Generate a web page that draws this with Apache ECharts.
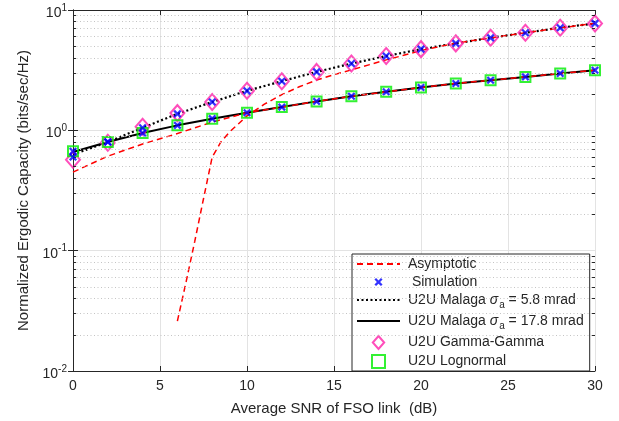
<!DOCTYPE html>
<html><head><meta charset="utf-8">
<script src="https://cdn.jsdelivr.net/npm/echarts@6/dist/echarts.min.js"></script>
<style>html,body{margin:0;padding:0;background:#fff}#c{width:619px;height:421px}</style>
</head><body><div id="c"></div>
<script>
// ---- data ----
const snr = [0,2,4,6,8,10,12,14,16,18,20,22,24,26,28,30];
const malaga58 = [0.63,0.80,1.05,1.37,1.72,2.13,2.56,3.06,3.59,4.14,4.73,5.28,5.87,6.47,7.12,7.74];
const malaga178 = [0.66,0.80,0.95,1.10,1.25,1.40,1.56,1.74,1.92,2.09,2.27,2.45,2.61,2.78,2.97,3.16];
const sim58 = [0.60,0.80,1.05,1.37,1.72,2.13,2.56,3.06,3.59,4.14,4.73,5.28,5.87,6.47,7.12,7.74];
const sim178 = [0.67,0.80,0.95,1.10,1.25,1.40,1.56,1.74,1.92,2.09,2.27,2.45,2.61,2.78,2.97,3.16];
const gammaGamma = [0.57,0.79,1.07,1.39,1.72,2.13,2.56,3.06,3.59,4.14,4.73,5.28,5.87,6.47,7.12,7.74];
const lognormal = [0.67,0.80,0.95,1.10,1.25,1.40,1.56,1.74,1.92,2.09,2.27,2.45,2.61,2.78,2.97,3.16];
const asymLowSnr = [0,2,4,6,8,10,12,14,16,18,20,22,24,26,28,30];
const asymLow = [0.45,0.61,0.77,0.94,1.17,1.40,1.56,1.74,1.92,2.09,2.27,2.45,2.61,2.78,2.97,3.16];
const asymHighSnr = [6,6.5,7,7.5,8,8.5,9,9.5,10,11,12,13,14,15,16,17,18,19,20,21,22,24,26,28,30];
const asymHigh = [0.026,0.055,0.12,0.27,0.6,0.8,0.97,1.13,1.32,1.65,1.98,2.3,2.62,2.9,3.18,3.5,3.85,4.2,4.6,4.95,5.3,5.87,6.47,7.1,7.74];
const xTicks = [0,5,10,15,20,25,30];
const yDecades = [0.01,0.1,1,10];
const minorY = [0.02,0.03,0.04,0.05,0.06,0.07,0.08,0.09,0.2,0.3,0.4,0.5,0.6,0.7,0.8,0.9,2,3,4,5,6,7,8,9];
const seriesNames = ['Asymptotic','Simulation','U2U Malaga 5.8','U2U Malaga 17.8','U2U Gamma-Gamma','U2U Lognormal'];
const legendLabels = {
  'Asymptotic':'Asymptotic',
  'Simulation':' Simulation',
  'U2U Malaga 5.8':'U2U Malaga {it|σ}{sub|a} = 5.8 mrad',
  'U2U Malaga 17.8':'U2U Malaga {it|σ}{sub|a} = 17.8 mrad',
  'U2U Gamma-Gamma':'U2U Gamma-Gamma',
  'U2U Lognormal':'U2U Lognormal'
};

const zip = (xs, ys) => xs.map((x, i) => [x, ys[i]]);
const FONT = "'Liberation Sans', Arial, Helvetica, sans-serif";
const AX = '#262626';
const xPath = 'path://M-3,-3M13,13M0,2L2,0L5,3L8,0L10,2L7,5L10,8L8,10L5,7L2,10L0,8L3,5Z';
const diamondIcon = 'path://M7,0L14,8L7,16L0,8Z';
const squareIcon = 'path://M0,0L10,0L10,10L0,10Z';

const chart = echarts.init(document.getElementById('c'), null, {renderer:'canvas'});
const option = {
  animation:false,
  backgroundColor:'#fff',
  textStyle:{fontFamily:FONT},
  grid:{left:73, top:10, right:24, bottom:50, containLabel:false},
  xAxis:[{
    type:'value', min:0, max:30, interval:5, position:'bottom',
    name:'Average SNR of FSO link  (dB)', nameLocation:'middle', nameGap:30,
    nameTextStyle:{fontSize:15, color:AX, fontFamily:FONT},
    axisLine:{show:true, lineStyle:{color:AX, width:1}},
    axisTick:{show:true, inside:true, length:5, lineStyle:{color:AX}},
    axisLabel:{fontSize:14, color:AX, margin:8, fontFamily:FONT},
    splitLine:{show:true, lineStyle:{color:'#e3e3e3', width:1}}
  },{
    type:'value', min:0, max:30, interval:5, position:'top',
    axisLine:{show:true, lineStyle:{color:AX, width:1}},
    axisTick:{show:true, inside:true, length:5, lineStyle:{color:AX}},
    axisLabel:{show:false}, splitLine:{show:false}
  }],
  yAxis:[{
    type:'log', logBase:10, min:0.01, max:10, position:'left',
    name:'Normalized Ergodic Capacity (bits/sec/Hz)', nameLocation:'middle', nameGap:42,
    nameTextStyle:{fontSize:15, color:AX, fontFamily:FONT},
    axisLine:{show:true, lineStyle:{color:AX, width:1}},
    axisTick:{show:true, inside:true, length:5, lineStyle:{color:AX}},
    axisLabel:{
      color:AX, margin:6, fontFamily:FONT,
      formatter:function(v){ const e = Math.round(Math.log10(v)); return '{b|10}{s|' + e + '}'; },
      rich:{ b:{fontSize:14, color:AX, fontFamily:FONT, padding:[6,0,0,0]}, s:{fontSize:10, color:AX, fontFamily:FONT, padding:[0,0,4,0]} }
    },
    splitLine:{show:true, lineStyle:{color:'#e3e3e3', width:1}},
    minorTick:{show:false}, minorSplitLine:{show:false}
  },{
    type:'log', logBase:10, min:0.01, max:10, position:'right',
    axisLine:{show:true, lineStyle:{color:AX, width:1}},
    axisTick:{show:true, inside:true, length:5, lineStyle:{color:AX}},
    axisLabel:{show:false}, splitLine:{show:false}
  }],
  legend:{
    orient:'vertical', left:352, top:254, selectedMode:false, symbolKeepAspect:true,
    backgroundColor:'#fff', borderColor:AX, borderWidth:1, borderRadius:0,
    padding:[3,6,2,4], itemGap:4, itemWidth:43, itemHeight:13,
    textStyle:{fontSize:14, color:AX, fontFamily:FONT, padding:[0,0,0,3],
      rich:{ it:{fontStyle:'italic', fontSize:14, color:AX, fontFamily:FONT}, sub:{fontSize:10, color:AX, fontFamily:FONT, padding:[10,0,0,1]} }},
    formatter:function(n){ return legendLabels[n] || n; },
    data:[
      {name:seriesNames[0], itemStyle:{opacity:0}},
      {name:seriesNames[1]},
      {name:seriesNames[2], itemStyle:{opacity:0}},
      {name:seriesNames[3], itemStyle:{opacity:0}},
      {name:seriesNames[4], icon:diamondIcon},
      {name:seriesNames[5], icon:squareIcon}
    ]
  },
  series:[
    { // minor dotted grid
      name:'_minorGrid', type:'line', data:[], silent:true, z:0,
      markLine:{silent:true, symbol:['none','none'], label:{show:false}, animation:false,
        lineStyle:{type:[1,2.5], color:'#c4c4c4', width:1},
        data: minorY.map(v => ({yAxis:v}))}
    },
    { // minor ticks on left & right frame
      name:'_minorTicks', type:'line', data:[], silent:true, z:1,
      markLine:{silent:true, symbol:['none','none'], label:{show:false}, animation:false,
        lineStyle:{type:'solid', color:AX, width:1},
        data: minorY.map(v => [{coord:[0,v]},{coord:[0.17,v]}]).concat(minorY.map(v => [{coord:[29.83,v]},{coord:[30,v]}]))}
    },
    { name:seriesNames[2], type:'line', data:zip(snr, malaga58), symbol:'none', showSymbol:false, z:2,
      color:'#000', lineStyle:{color:'#000', width:2.2, type:[2,2.5], cap:'butt'} },
    { name:seriesNames[3], type:'line', data:zip(snr, malaga178), symbol:'none', showSymbol:false, z:2,
      color:'#000', lineStyle:{color:'#000', width:2, type:'solid'} },
    { name:seriesNames[0], type:'line', data:zip(asymLowSnr, asymLow), symbol:'none', showSymbol:false, z:3,
      color:'#ff0000', lineStyle:{color:'#ff0000', width:1.5, type:[6,4]} },
    { name:seriesNames[0], type:'line', data:zip(asymHighSnr, asymHigh), symbol:'none', showSymbol:false, z:3,
      color:'#ff0000', lineStyle:{color:'#ff0000', width:1.5, type:[6,4]} },
    { name:seriesNames[4], type:'scatter', data:zip(snr, gammaGamma), symbol:'diamond', symbolSize:[14,16], z:4,
      itemStyle:{color:'rgba(0,0,0,0)', borderColor:'#ff22aa', borderWidth:2} },
    { name:seriesNames[5], type:'scatter', data:zip(snr, lognormal), symbol:'rect', symbolSize:10, z:4,
      itemStyle:{color:'rgba(0,0,0,0)', borderColor:'#00ee00', borderWidth:2} },
    { name:seriesNames[1], type:'scatter', data:zip(snr, sim58).concat(zip(snr, sim178)), symbol:xPath, symbolSize:13, z:5,
      itemStyle:{color:'#0000ff'} }
  ]
};
chart.setOption(option);
</script>
</body></html>
